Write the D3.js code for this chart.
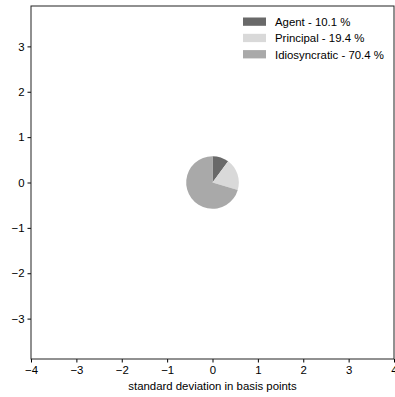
<!DOCTYPE html>
<html>
<head>
<meta charset="utf-8">
<script src="https://cdn.jsdelivr.net/npm/d3@7"></script>
<style>
    body { margin: 0; background: #fff; }
    svg { font-family: "Liberation Sans", Arial, sans-serif; }
</style>
</head>
<body>
<svg id="chart" width="395" height="397"></svg>
<script>
    // data
    const categories = ["Agent", "Principal", "Idiosyncratic"];
    const shares = [10.1, 19.4, 70.4];
    const colors = ["#696969", "#d9d9d9", "#a9a9a9"];
    const xTicks = [-4, -3, -2, -1, 0, 1, 2, 3, 4];
    const yTicks = [-3, -2, -1, 0, 1, 2, 3];
    const pieCenter = [0, 0];
    const pieRadius = 0.58;

    const svg = d3.select("#chart");
    const margin = { left: 31, right: 1, top: 6, bottom: 38 };
    const W = 395, H = 397;
    const fs = 11.4;

    const x = d3.scaleLinear().domain([-4, 4]).range([margin.left, W - margin.right]);
    const y = d3.scaleLinear().domain([-3.89, 3.89]).range([H - margin.bottom, margin.top]);

    const fmt = d => d < 0 ? "\u2212" + Math.abs(d) : String(d);

    // pie
    const pie = d3.pie().sort(null).value(d => d);
    const rPx = x(pieRadius) - x(0);
    const arc = d3.arc().innerRadius(0).outerRadius(rPx);
    svg.append("g")
        .attr("transform", `translate(${x(pieCenter[0])},${y(pieCenter[1])})`)
        .selectAll("path")
        .data(pie(shares))
        .join("path")
        .attr("d", arc)
        .attr("fill", (d, i) => colors[i]);

    // axes
    const xAxis = svg.append("g")
        .attr("transform", `translate(0,${y(-3.89)})`)
        .call(d3.axisBottom(x).tickValues(xTicks).tickFormat(fmt).tickSize(3.5).tickPadding(3));
    const yAxis = svg.append("g")
        .attr("transform", `translate(${x(-4)},0)`)
        .call(d3.axisLeft(y).tickValues(yTicks).tickFormat(fmt).tickSize(3.5).tickPadding(3));
    [xAxis, yAxis].forEach(a => {
        a.select(".domain").remove();
        a.selectAll("text").attr("font-size", fs).attr("fill", "#000")
            .attr("font-family", "Liberation Sans, Arial, sans-serif");
        a.selectAll("line").attr("stroke", "#000").attr("stroke-width", 1);
    });

    // frame
    svg.append("rect")
        .attr("x", x(-4)).attr("y", y(3.89))
        .attr("width", x(4) - x(-4)).attr("height", y(-3.89) - y(3.89))
        .attr("fill", "none").attr("stroke", "#222").attr("stroke-width", 1);

    svg.append("text")
        .attr("x", x(0)).attr("y", 390)
        .attr("text-anchor", "middle")
        .attr("font-size", fs)
        .text("standard deviation in basis points");

    // legend
    const legend = svg.append("g").attr("transform", "translate(243,17.5)");
    categories.forEach((c, i) => {
        const g = legend.append("g").attr("transform", `translate(0,${i * 16.3})`);
        g.append("rect").attr("width", 23).attr("height", 8.3).attr("fill", colors[i]);
        g.append("text").attr("x", 32).attr("y", 8.5).attr("font-size", fs)
            .text(`${c} - ${shares[i].toFixed(1)} %`);
    });
</script>
</body>
</html>
